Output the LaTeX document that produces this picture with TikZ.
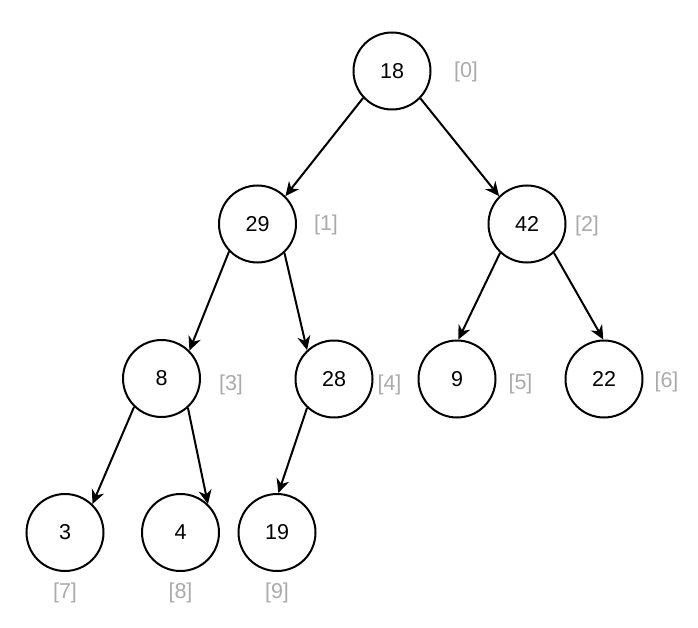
\documentclass[tikz,border=0pt]{standalone}
\usepackage{fontspec}
\setmainfont{Liberation Sans}
\usetikzlibrary{arrows.meta}
\definecolor{idxgray}{RGB}{170,170,170}
\tikzset{
  heapnode/.style={circle, draw=black, line width=2pt, minimum size=77pt, inner sep=0pt, font=\fontsize{21.5}{25}\selectfont},
  idxlabel/.style={text=idxgray, inner sep=0pt, font=\fontsize{21.5}{25}\selectfont},
  edge/.style={line width=2pt, -{Stealth[length=14pt, width=13pt, inset=4.5pt]}}
}
\begin{document}
\begin{tikzpicture}[x=1pt, y=-1pt]
\useasboundingbox (0,0) rectangle (698,628);
% nodes
\node[heapnode] (n0) at (392,71) {18};
\node[heapnode] (n1) at (257.5,224) {29};
\node[heapnode] (n2) at (527,224) {42};
\node[heapnode] (n3) at (161.5,378.5) {8};
\node[heapnode] (n4) at (334,379) {28};
\node[heapnode] (n5) at (457,379) {9};
\node[heapnode] (n6) at (604,379) {22};
\node[heapnode] (n7) at (65,532.5) {3};
\node[heapnode] (n8) at (180.5,532.5) {4};
\node[heapnode] (n9) at (277,532.5) {19};
% index labels
\node[idxlabel] (l0) at (466,72) {[0]};
\node[idxlabel] (l1) at (326,225) {[1]};
\node[idxlabel] (l2) at (587,226) {[2]};
\node[idxlabel] (l3) at (231,385) {[3]};
\node[idxlabel] (l4) at (389.5,385) {[4]};
\node[idxlabel] (l5) at (520.5,384) {[5]};
\node[idxlabel] (l6) at (666.5,382) {[6]};
\node[idxlabel] (l7) at (65,593) {[7]};
\node[idxlabel] (l8) at (180.5,593) {[8]};
\node[idxlabel] (l9) at (277,593) {[9]};
% edges
\draw[edge] (n0.223) -- (n1.45);
\draw[edge] (n0.316) -- (n2.135);
\draw[edge] (n1.224) -- (n3.45);
\draw[edge] (n1.313) -- (n4.133);
\draw[edge] (n2.227) -- (n5.88);
\draw[edge] (n2.313) -- (n6.91);
\draw[edge] (n3.226) -- (n7.46);
\draw[edge] (n3.312) -- (n8.46);
\draw[edge] (n4.227) -- (n9.88);
\end{tikzpicture}
\end{document}
